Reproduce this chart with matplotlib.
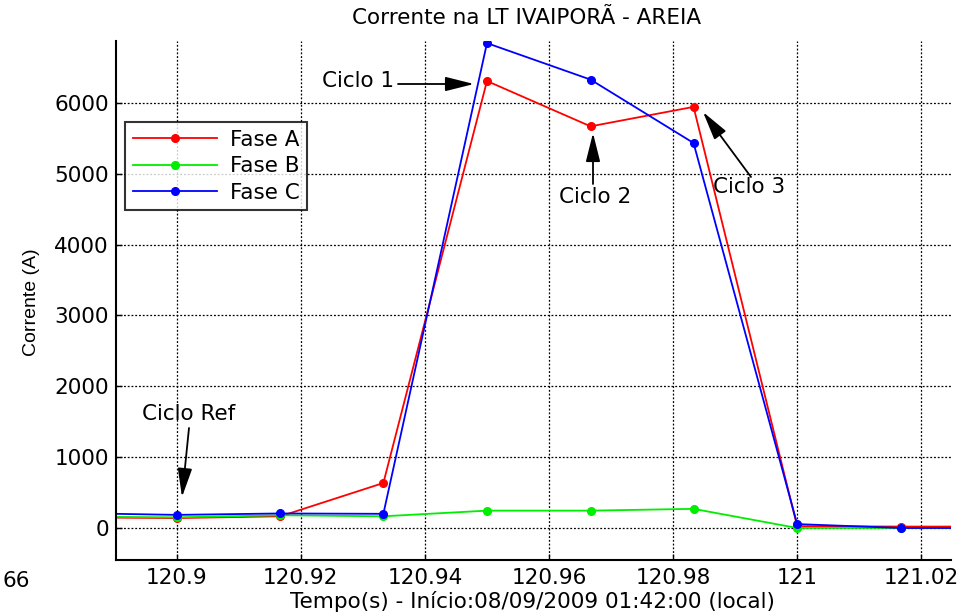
import matplotlib
matplotlib.use("Agg")
import matplotlib.pyplot as plt
from matplotlib.font_manager import fontManager

names = {f.name for f in fontManager.ttflist}
base = "Liberation Sans" if "Liberation Sans" in names else "DejaVu Sans"
plt.rcParams["font.family"] = ["DejaVu Sans"]
FS = 15.5

# Sample times (s) and phase currents (A)
tempo = [120.8833, 120.9, 120.9167, 120.9333, 120.95, 120.9667, 120.9833,
         121.0, 121.0167, 121.0333]
fase_a = [150, 140, 165, 635, 6310, 5670, 5945, 25, 20, 20]
fase_b = [160, 150, 180, 165, 245, 245, 270, 0, 0, 0]
fase_c = [210, 185, 205, 200, 6845, 6330, 5435, 55, 0, 0]

xticks = [120.9, 120.92, 120.94, 120.96, 120.98, 121.0, 121.02]
xtick_labels = ["120.9", "120.92", "120.94", "120.96", "120.98", "121", "121.02"]
yticks = [0, 1000, 2000, 3000, 4000, 5000, 6000]

fig = plt.figure(figsize=(9.63, 6.14), dpi=100)
ax = fig.add_axes([116 / 963, 54 / 614, 835 / 963, 519 / 614])

series = [("Fase A", fase_a, "#ff0000"),
          ("Fase B", fase_b, "#00ee00"),
          ("Fase C", fase_c, "#0000ff")]
for label, vals, color in series:
    ax.plot(tempo, vals, color=color, lw=1.3, marker="o", ms=5.5,
            markeredgecolor=color, label=label)

ax.set_xlim(120.8902, 121.0248)
ax.set_ylim(-452, 6875)
ax.set_xticks(xticks)
ax.set_xticklabels(xtick_labels)
ax.set_yticks(yticks)
ax.tick_params(direction="in", length=4, width=1, labelsize=FS, colors="black")
ax.tick_params(axis="x", pad=6)
ax.tick_params(axis="y", pad=5)
ax.grid(True, color="black", linestyle=(0, (1.5, 1.5)), lw=0.9)
for side in ("top", "right"):
    ax.spines[side].set_visible(False)
for side in ("left", "bottom"):
    ax.spines[side].set_linewidth(1.5)

fig.text(527 / 963, 1 - 18 / 614, "Corrente na LT IVAIPORÃ - AREIA",
         fontsize=FS, ha="center", va="center")
fig.text(532 / 963, 1 - 601 / 614,
         "Tempo(s) - Início:08/09/2009 01:42:00 (local)",
         fontsize=FS, ha="center", va="center")
fig.text(31 / 963, 1 - 302 / 614, "Corrente (A)", fontsize=14,
         family=[base], rotation=90, ha="center", va="center")

leg = ax.legend(loc="upper left", bbox_to_anchor=(9 / 835, 438 / 519),
                fontsize=FS, frameon=True, fancybox=False,
                handlelength=3.9, borderpad=0.36, labelspacing=0.3,
                handletextpad=0.6, borderaxespad=0)
leg.get_frame().set_edgecolor("black")
leg.get_frame().set_linewidth(1.5)


def px(xp, yp):
    # convert image pixel position to figure fraction
    return (xp / 963, 1 - yp / 614)


arrow = dict(arrowstyle="-|>,head_length=0.8,head_width=0.2", color="black",
             lw=1.3, mutation_scale=22, shrinkA=0, shrinkB=0)
notes = [("Ciclo 1", (358, 81), (398, 84), (474, 84)),
         ("Ciclo 2", (595, 197), (593, 184), (593, 133)),
         ("Ciclo 3", (749, 187), (751, 177), (703, 112)),
         ("Ciclo Ref", (189, 414), (189, 428), (182, 497))]
for text, tpos, start, end in notes:
    fig.text(*px(*tpos), text, fontsize=FS, ha="center", va="center")
    ax.annotate("", xy=px(*end), xycoords="figure fraction",
                xytext=px(*start), textcoords="figure fraction",
                arrowprops=arrow)

fig.text(*px(16, 581), "66", fontsize=FS, ha="center", va="center")

fig.savefig("out.png", dpi=100)
